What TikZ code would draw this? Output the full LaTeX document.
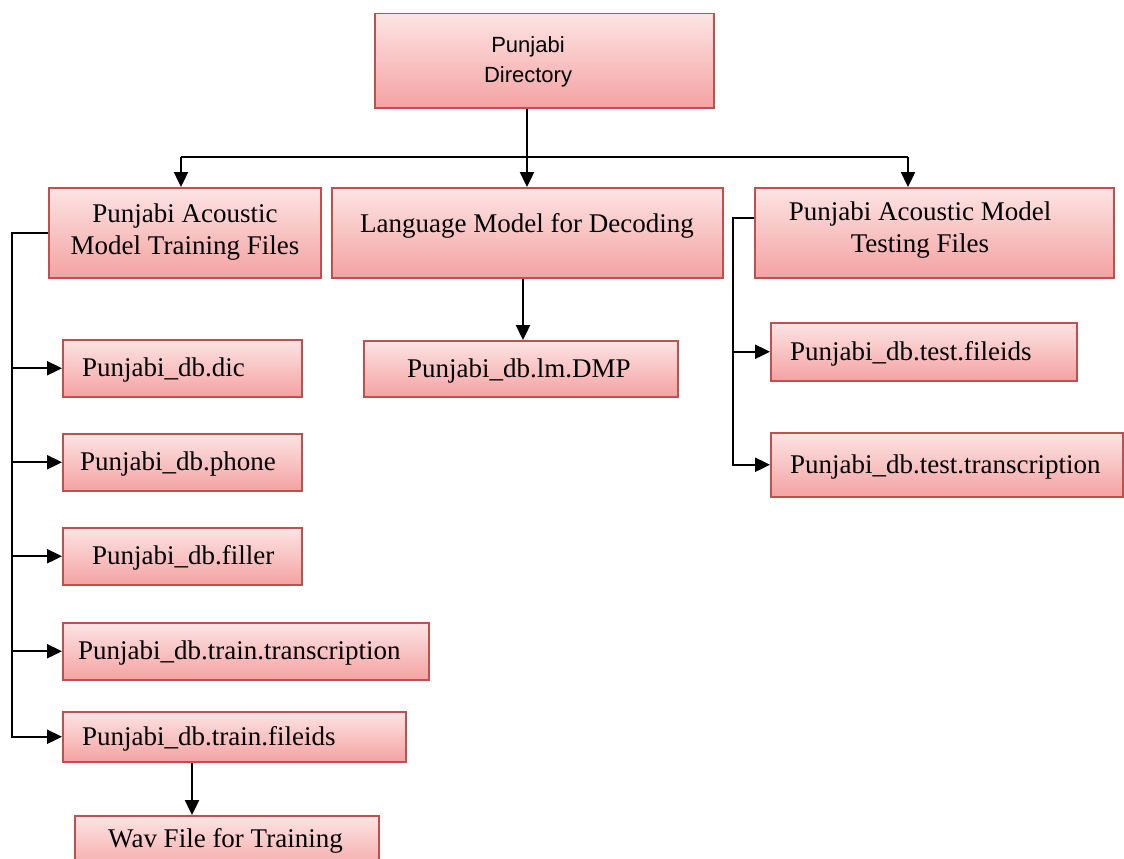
\documentclass[tikz,border=0pt]{standalone}
\usepackage{fontspec}
\setmainfont{Liberation Serif}
\newfontfamily\rootfont{Liberation Sans}
\usetikzlibrary{arrows.meta,calc}
\definecolor{boxtop}{HTML}{FDE4E4}
\definecolor{boxbot}{HTML}{F4A2A2}
\definecolor{boxline}{HTML}{C0504D}
\tikzset{
  box/.style={draw=boxline, line width=1.5pt, top color=boxtop, bottom color=boxbot, inner sep=0pt, anchor=north west},
  txt/.style={font=\fontsize{27}{32}\selectfont, align=center, inner sep=0pt},
  conn/.style={line width=2.4pt, black},
  arr/.style={conn, -{Triangle[length=15pt,width=14pt]}}
}
\begin{document}
\begin{tikzpicture}[x=1pt,y=-1pt]
\useasboundingbox (0,0) rectangle (1124,859);
\clip (0,0) rectangle (1124,859);
% boxes
\node[box, minimum width=339, minimum height=94] (root) at (374,13) {};
\node[font=\rootfont\fontsize{22}{30}\selectfont, align=center, inner sep=0pt] (roott) at (528,62) {Punjabi\\Directory};
\node[box, minimum width=272, minimum height=90] (train) at (48,187) {};
\node[txt] (traint) at (185,232) {Punjabi Acoustic\\Model Training Files};
\node[box, minimum width=391, minimum height=90] (lang) at (331,187) {};
\node[txt] (langt) at (527,226) {Language Model for Decoding};
\node[box, minimum width=359, minimum height=90] (test) at (754,187) {};
\node[txt] (testt) at (920,230) {Punjabi Acoustic Model\\Testing Files};
\node[box, minimum width=314, minimum height=56] (dmp) at (363,340) {};
\node[txt, anchor=west] (dmpt) at ([yshift=-2]dmp.west) {\hspace{44pt}Punjabi\_db.lm.DMP};
\node[box, minimum width=239, minimum height=57] (dic) at (62,339) {};
\node[txt, anchor=west] (dict) at ([yshift=-2]dic.west) {\hspace{20pt}Punjabi\_db.dic};
\node[box, minimum width=239, minimum height=57] (phone) at (62,433) {};
\node[txt, anchor=west] (phonet) at ([yshift=-2]phone.west) {\hspace{18pt}Punjabi\_db.phone};
\node[box, minimum width=239, minimum height=57] (filler) at (62,527) {};
\node[txt, anchor=west] (fillert) at ([yshift=-2]filler.west) {\hspace{30pt}Punjabi\_db.filler};
\node[box, minimum width=366, minimum height=57] (ttr) at (62,622) {};
\node[txt, anchor=west] (ttrt) at ([yshift=-2]ttr.west) {\hspace{16pt}Punjabi\_db.train.transcription};
\node[box, minimum width=343, minimum height=50] (tfi) at (62,711) {};
\node[txt, anchor=west] (tfit) at ([yshift=-2]tfi.west) {\hspace{20pt}Punjabi\_db.train.fileids};
\node[box, minimum width=304, minimum height=60] (wav) at (74,815) {};
\node[txt, anchor=west] (wavt) at (108,841) {Wav File for Training};
\node[box, minimum width=306, minimum height=58] (sfi) at (770,322) {};
\node[txt, anchor=west] (sfit) at ([yshift=-2]sfi.west) {\hspace{20pt}Punjabi\_db.test.fileids};
\node[box, minimum width=352, minimum height=64] (str) at (770,432) {};
\node[txt, anchor=west] (strt) at ([yshift=-2]str.west) {\hspace{20pt}Punjabi\_db.test.transcription};
% connectors
\coordinate (hl) at (181,157);
\coordinate (hr) at (908,157);
\coordinate (ls) at (12,231);
\coordinate (rs) at (733,218);
\coordinate (rootx) at (527,0);
\coordinate (langx) at (523,0);
\coordinate (fidx) at (192,0);
\draw[arr] (root.south -| rootx) -- (lang.north -| rootx);
\draw[conn] (hl) -- (hr);
\draw[arr] (hl) -- (hl |- train.north);
\draw[arr] (hr) -- (hr |- test.north);
\draw[arr] (lang.south -| langx) -- (dmp.north -| langx);
\draw[arr] (train.west) -- (train.west -| ls) |- (tfi.west);
\draw[arr] (ls |- dic.west) -- (dic.west);
\draw[arr] (ls |- phone.west) -- (phone.west);
\draw[arr] (ls |- filler.west) -- (filler.west);
\draw[arr] (ls |- ttr.west) -- (ttr.west);
\draw[arr] (test.west |- rs) -- (rs) |- (str.west);
\draw[arr] (rs |- sfi.west) -- (sfi.west);
\draw[arr] (tfi.south -| fidx) -- (wav.north -| fidx);
\end{tikzpicture}
\end{document}
